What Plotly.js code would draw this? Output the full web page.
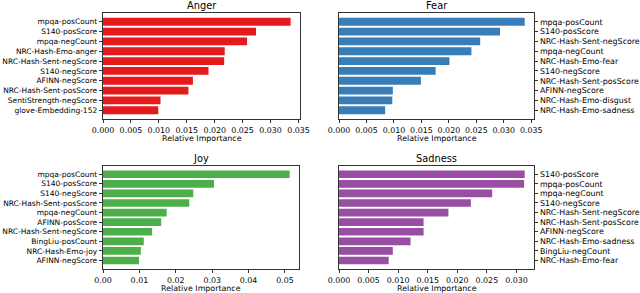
<!DOCTYPE html>
<html>
<head>
<meta charset="utf-8">
<script src="https://cdn.plot.ly/plotly-3.0.1.min.js"></script>
<style>html,body{margin:0;padding:0;background:#fff;}#chart{width:640px;height:293px;}</style>
</head>
<body>
<div id="chart"></div>
<script>
// Data (top-to-bottom order as shown)
const angerLabels = ["mpqa-posCount","S140-posScore","mpqa-negCount","NRC-Hash-Emo-anger","NRC-Hash-Sent-negScore","S140-negScore","AFINN-negScore","NRC-Hash-Sent-posScore","SentiStrength-negScore","glove-Embedding-152"];
const angerValues = [0.0336,0.0274,0.0258,0.0218,0.0217,0.0189,0.0161,0.0153,0.0103,0.0099];

const fearLabels = ["mpqa-posCount","S140-posScore","NRC-Hash-Sent-negScore","mpqa-negCount","NRC-Hash-Emo-fear","S140-negScore","NRC-Hash-Sent-posScore","AFINN-negScore","NRC-Hash-Emo-disgust","NRC-Hash-Emo-sadness"];
const fearValues = [0.0338,0.0293,0.0257,0.0241,0.0201,0.0176,0.0149,0.0098,0.0097,0.0084];

const joyLabels = ["mpqa-posCount","S140-posScore","S140-negScore","NRC-Hash-Sent-posScore","mpqa-negCount","AFINN-posScore","NRC-Hash-Sent-negScore","BingLiu-posCount","NRC-Hash-Emo-joy","AFINN-negScore"];
const joyValues = [0.0513,0.0305,0.0248,0.0237,0.0175,0.0160,0.0135,0.0112,0.0104,0.0099];

const sadnessLabels = ["S140-posScore","mpqa-posCount","mpqa-negCount","S140-negScore","NRC-Hash-Sent-negScore","NRC-Hash-Sent-posScore","AFINN-negScore","NRC-Hash-Emo-sadness","BingLiu-negCount","NRC-Hash-Emo-fear"];
const sadnessValues = [0.0314,0.0313,0.0259,0.0223,0.0185,0.0143,0.0143,0.0121,0.0091,0.0084];

const panelTitles = ["Anger","Fear","Joy","Sadness"];
const xAxisTitle = "Relative Importance";

const colors = ["#e41a1c","#377eb8","#4daf4a","#984ea3"];
const FONT = "DejaVu Sans, sans-serif";
const W = 640, H = 293;
const FS = 7.9;

const panels = [
  {labels: angerLabels, values: angerValues, x:[103,300], y:[13,119], side:"left", dtick:0.005, fmt:".3f"},
  {labels: fearLabels, values: fearValues, x:[339,534], y:[13,119], side:"right", dtick:0.005, fmt:".3f"},
  {labels: joyLabels, values: joyValues, x:[103,299], y:[165.7,269], side:"left", dtick:0.01, fmt:".2f"},
  {labels: sadnessLabels, values: sadnessValues, x:[339,534], y:[165.7,269], side:"right", dtick:0.005, fmt:".3f"}
];

const traces = [];
const layout = {
  width: W, height: H,
  margin: {l:0,r:0,t:0,b:0},
  paper_bgcolor: "#fff", plot_bgcolor: "#fff",
  showlegend: false,
  bargap: 0.2,
  font: {family: FONT, size: FS, color: "#000"},
  annotations: []
};

panels.forEach((p, i) => {
  const n = i + 1;
  const xa = n === 1 ? "x" : "x" + n;
  const ya = n === 1 ? "y" : "y" + n;
  traces.push({
    type: "bar", orientation: "h",
    x: p.values, y: p.labels,
    xaxis: xa, yaxis: ya,
    marker: {color: colors[i], line: {width: 0}},
    hoverinfo: "x+y"
  });
  const maxV = Math.max(...p.values);
  const xKey = n === 1 ? "xaxis" : "xaxis" + n;
  const yKey = n === 1 ? "yaxis" : "yaxis" + n;
  layout[xKey] = {
    domain: [p.x[0]/W, p.x[1]/W],
    anchor: ya,
    range: [0, maxV*1.05],
    dtick: p.dtick, tick0: 0, tickformat: p.fmt,
    ticks: "outside", ticklen: 3.5, tickwidth: 0.8, tickcolor: "#000",
    showline: true, mirror: true, linecolor: "#000", linewidth: 0.8,
    showgrid: false, zeroline: false,
    tickfont: {family: FONT, size: FS, color: "#000"},
    fixedrange: true
  };
  layout[yKey] = {
    domain: [1 - p.y[1]/H, 1 - p.y[0]/H],
    anchor: xa,
    type: "category",
    range: [p.labels.length - 1 + 0.89, -0.89],
    tickmode: "array", tickvals: p.labels, ticktext: p.labels,
    side: p.side,
    ticks: "outside", ticklen: 3.5, tickwidth: 0.8, tickcolor: "#000",
    showline: true, mirror: true, linecolor: "#000", linewidth: 0.8,
    showgrid: false, zeroline: false,
    tickfont: {family: FONT, size: p.side === "left" ? 7.5 : FS, color: "#000"},
    fixedrange: true
  };
  const cx = (p.x[0] + p.x[1]) / 2 / W;
  layout.annotations.push({
    text: panelTitles[i], xref: "paper", yref: "paper",
    x: cx, y: 1 - (p.y[0] - 7.5)/H, xanchor: "center", yanchor: "middle",
    showarrow: false, font: {family: FONT, size: 9.8, color: "#000"}
  });
  layout.annotations.push({
    text: xAxisTitle, xref: "paper", yref: "paper",
    x: cx, y: 1 - (p.y[1] + 19.5)/H, xanchor: "center", yanchor: "middle",
    showarrow: false, font: {family: FONT, size: FS, color: "#000"}
  });
});

Plotly.newPlot("chart", traces, layout, {displayModeBar: false, staticPlot: true});
</script>
</body>
</html>
